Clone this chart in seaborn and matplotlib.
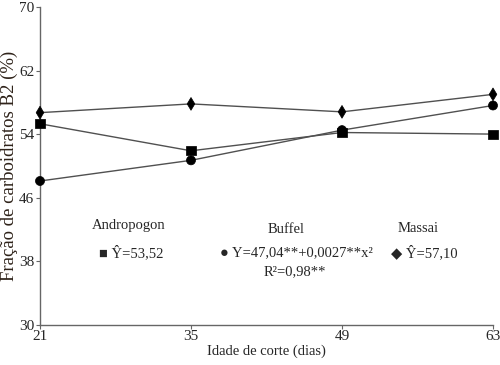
import numpy as np
import pandas as pd
import matplotlib
matplotlib.use('Agg')
import matplotlib.pyplot as plt
import seaborn as sns

dias = [21, 35, 49, 63]
andropogon = [55.3, 51.9, 54.2, 54.0]
buffel = [48.1, 50.7, 54.5, 57.6]
massai = [56.7, 57.8, 56.8, 59.0]

df = pd.DataFrame({
    'dias': dias * 3,
    'valor': andropogon + buffel + massai,
    'capim': ['Andropogon'] * 4 + ['Buffel'] * 4 + ['Massai'] * 4,
})

sns.set_style('ticks')
plt.rcParams['font.family'] = ['Liberation Serif', 'DejaVu Sans']

fig = plt.figure(figsize=(5, 3.65), dpi=100)
ax = fig.add_axes([0.08, 0.11, 0.906, 0.871])

pal = {'Andropogon': '#505050', 'Buffel': '#505050', 'Massai': '#505050'}
mk = {'Andropogon': 's', 'Buffel': 'o', 'Massai': 'd'}

sns.lineplot(data=df, x='dias', y='valor', hue='capim', palette=pal,
             linewidth=1.0, legend=False, ax=ax)
sns.scatterplot(data=df, x='dias', y='valor', style='capim', markers=mk,
                color='black', s=42, edgecolor='black', legend=False,
                ax=ax, zorder=5, clip_on=False)

ax.set_xlim(21, 63)
ax.set_ylim(30, 70)
ax.set_xticks(dias)
ax.set_yticks([30, 38, 46, 54, 62, 70])
ax.tick_params(labelsize=11, length=3, width=0.8, color='#666666', pad=1)
for s in ['top', 'right']:
    ax.spines[s].set_visible(False)
for s in ['left', 'bottom']:
    ax.spines[s].set_color('#666666')
    ax.spines[s].set_linewidth(1.0)

ax.set_xlabel('Idade de corte (dias)', fontsize=10.5, labelpad=1)
ax.set_ylabel('Fração de carboidratos B2 (%)', fontsize=13.5,
              color='#2e2219')
ax.yaxis.set_label_coords(-0.048, 0.5)

fs = 10.5
ax.text(29.2, 42.5, 'Andropogon', ha='center', va='center', fontsize=fs)
ax.text(26.5, 39.05, '■ Ŷ=53,52', ha='left', va='center', fontsize=fs)
ax.text(43.8, 42.0, 'Buffel', ha='center', va='center', fontsize=fs)
ax.text(37.7, 39.05, '● Y=47,04**+0,0027**x²', ha='left', va='center', fontsize=fs)
ax.text(44.6, 36.7, 'R²=0,98**', ha='center', va='center', fontsize=fs)
ax.text(56.1, 42.1, 'Massai', ha='center', va='center', fontsize=fs)
ax.text(53.5, 39.05, '◆ Ŷ=57,10', ha='left', va='center', fontsize=fs)

fig.savefig('out.png', dpi=100)
